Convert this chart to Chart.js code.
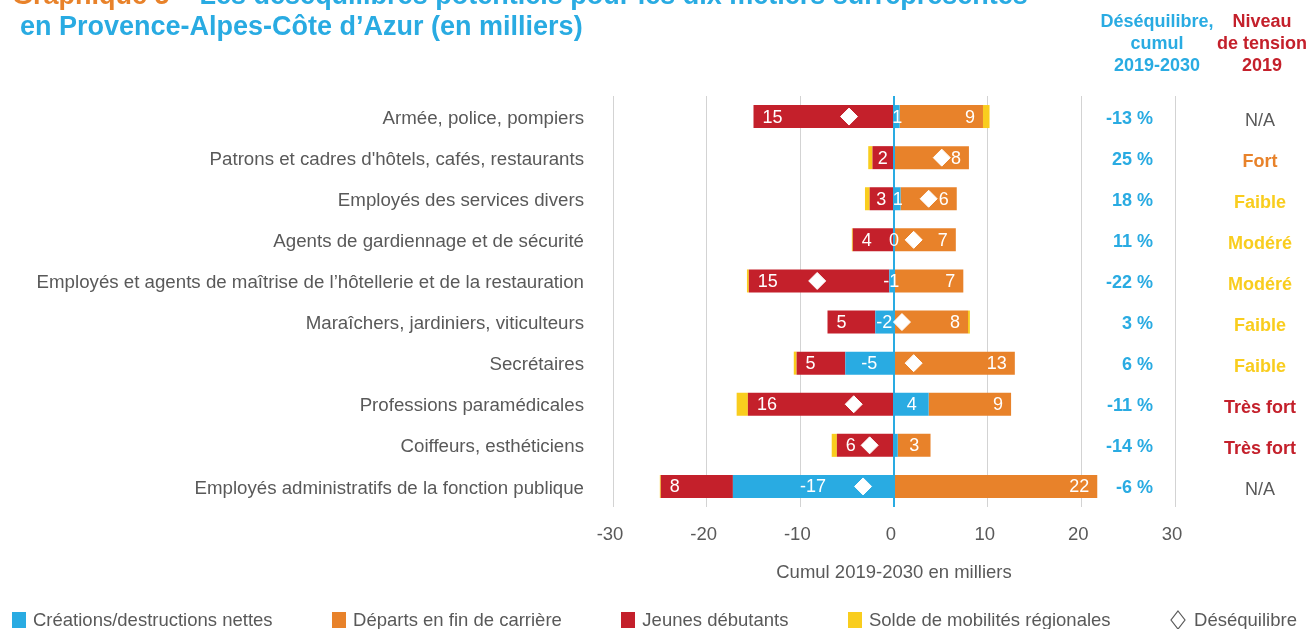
<!DOCTYPE html>
<html><head><meta charset="utf-8">
<script src="https://cdn.jsdelivr.net/npm/chart.js@4.4.1/dist/chart.umd.min.js"></script>
<style>
html,body{margin:0;padding:0;background:#fff;}
body{width:1309px;height:629px;position:relative;overflow:hidden;font-family:"Liberation Sans",Arial,sans-serif;}
#wrap{position:absolute;left:0;top:0;width:1309px;height:629px;}
.title{position:absolute;font-weight:bold;font-size:27px;white-space:nowrap;line-height:31px;}
.hdr{position:absolute;width:150px;text-align:center;font-weight:bold;font-size:18px;line-height:22px;top:10px;}
#legend{position:absolute;left:12px;width:1285px;top:610px;display:flex;justify-content:space-between;align-items:center;font-size:18.5px;line-height:20px;color:#595959;white-space:nowrap;}
#legend .it{display:flex;align-items:center;}
#legend .bx{display:inline-block;width:14px;height:16px;margin-right:7px;}
</style></head>
<body>
<div id="wrap"><canvas id="c" width="1309" height="629"></canvas></div>
<div class="title" style="left:12px;top:-20px"><span style="color:#E8822A">Graphique 5 – </span><span style="color:#29ABE2">Les déséquilibres potentiels pour les dix métiers surreprésentés</span></div>
<div class="title" style="left:20px;top:11px;color:#29ABE2">en Provence-Alpes-Côte d’Azur (en milliers)</div>
<div class="hdr" style="left:1082px;color:#29ABE2">Déséquilibre,<br>cumul<br>2019-2030</div>
<div class="hdr" style="left:1187px;color:#C4202B">Niveau<br>de tension<br>2019</div>
<div id="legend"></div>
<script>
const categories = [
  'Armée, police, pompiers',
  "Patrons et cadres d'hôtels, cafés, restaurants",
  'Employés des services divers',
  'Agents de gardiennage et de sécurité',
  'Employés et agents de maîtrise de l’hôtellerie et de la restauration',
  'Maraîchers, jardiniers, viticulteurs',
  'Secrétaires',
  'Professions paramédicales',
  'Coiffeurs, esthéticiens',
  'Employés administratifs de la fonction publique'
];
const creations       = [0.6, 0, 0.7, 0, -0.5, -2.0, -5.2, 3.7, 0.4, -17.2];
const creationsLabels = ['1', '', '1', '0', '-1', '-2', '-5', '4', '', '-17'];
const jeunes          = [-15.0, -2.3, -2.6, -4.4, -15.0, -5.1, -5.2, -15.6, -6.1, -7.7];
const jeunesLabels    = ['15', '2', '3', '4', '15', '5', '5', '16', '6', '8'];
const departs         = [8.9, 8.0, 6.0, 6.6, 7.4, 7.9, 12.9, 8.8, 3.5, 21.7];
const departsLabels   = ['9', '8', '6', '7', '7', '8', '13', '9', '3', '22'];
const mobilites       = [0.7, -0.45, -0.5, -0.1, -0.2, 0.2, -0.3, -1.2, -0.55, -0.1];
const desequilibre    = [-4.8, 5.1, 3.7, 2.1, -8.2, 0.85, 2.1, -4.3, -2.6, -3.3];
const desequilibrePct = ['-13 %', '25 %', '18 %', '11 %', '-22 %', '3 %', '6 %', '-11 %', '-14 %', '-6 %'];
const tension         = ['N/A', 'Fort', 'Faible', 'Modéré', 'Modéré', 'Faible', 'Faible', 'Très fort', 'Très fort', 'N/A'];
const xTicks          = [-30, -20, -10, 0, 10, 20, 30];

const FONT = '"Liberation Sans", Arial, sans-serif';
const BLUE = '#29ABE2', RED = '#C4202B', ORANGE = '#E8822A', YELLOW = '#F9CD1E', GREY = '#595959';
const tensionColor = {'N/A': GREY, 'Fort': ORANGE, 'Faible': YELLOW, 'Modéré': YELLOW, 'Très fort': RED};

const barLabels = {
  id: 'barLabels',
  afterDatasetsDraw(chart) {
    const ctx = chart.ctx;
    ctx.save();
    ctx.font = '18px ' + FONT;
    ctx.fillStyle = '#fff';
    ctx.textBaseline = 'middle';
    chart.data.datasets.forEach((ds, i) => {
      if (!ds.valueLabels) return;
      const meta = chart.getDatasetMeta(i);
      meta.data.forEach((el, j) => {
        const txt = ds.valueLabels[j];
        if (!txt) return;
        const l = Math.min(el.x, el.base), r = Math.max(el.x, el.base);
        const w = ctx.measureText(txt).width;
        let x;
        if (ds.labelPos === 'outer-left' && r - l > w + 24) { ctx.textAlign = 'left'; x = l + 9; }
        else if (ds.labelPos === 'outer-right' && r - l > w + 24) { ctx.textAlign = 'right'; x = r - 8; }
        else { ctx.textAlign = 'center'; x = (l + r) / 2; }
        ctx.fillText(txt, x, el.y + 1);
      });
    });
    ctx.restore();
  }
};

const sideColumns = {
  id: 'sideColumns',
  afterDraw(chart) {
    const {ctx, chartArea, scales} = chart;
    ctx.save();
    ctx.textBaseline = 'middle';
    categories.forEach((c, j) => {
      const py = scales.y.getPixelForValue(j);
      ctx.font = 'bold 18px ' + FONT;
      ctx.textAlign = 'right';
      ctx.fillStyle = BLUE;
      ctx.fillText(desequilibrePct[j], chartArea.right - 22, py + 2);
      const t = tension[j];
      ctx.font = (t === 'N/A' ? '' : 'bold ') + '18px ' + FONT;
      ctx.textAlign = 'center';
      ctx.fillStyle = tensionColor[t];
      ctx.fillText(t, chartArea.right + 85, py + 4);
    });
    ctx.restore();
  }
};

const datasets = [
  {label: 'Déséquilibre', type: 'line', data: desequilibre, showLine: false, indexAxis: 'y',
   pointStyle: 'rectRot', pointRadius: 8.5, pointHoverRadius: 8.5,
   pointBackgroundColor: '#fff', pointBorderColor: '#fff', pointBorderWidth: 1,
   order: -1, stack: 'diamond', legendRank: 4},
  {label: 'Créations/destructions nettes', data: creations, backgroundColor: BLUE, stack: 's',
   valueLabels: creationsLabels, labelPos: 'center', legendRank: 0},
  {label: 'Jeunes débutants', data: jeunes, backgroundColor: RED, stack: 's',
   valueLabels: jeunesLabels, labelPos: 'outer-left', legendRank: 2},
  {label: 'Départs en fin de carrière', data: departs, backgroundColor: ORANGE, stack: 's',
   valueLabels: departsLabels, labelPos: 'outer-right', legendRank: 1},
  {label: 'Solde de mobilités régionales', data: mobilites, backgroundColor: YELLOW, stack: 's', legendRank: 3}
];

new Chart(document.getElementById('c'), {
  type: 'bar',
  data: {labels: categories, datasets},
  options: {
    indexAxis: 'y',
    responsive: false,
    animation: false,
    devicePixelRatio: 1,
    layout: {padding: {left: 0, right: 134, top: 96, bottom: 41}},
    datasets: {bar: {categoryPercentage: 1, barPercentage: 0.56, borderWidth: 0}},
    plugins: {legend: {display: false}, tooltip: {enabled: false}},
    scales: {
      x: {
        type: 'linear', min: xTicks[0], max: xTicks[xTicks.length - 1], stacked: true,
        afterBuildTicks(s) { s.ticks = xTicks.map(v => ({value: v})); },
        ticks: {color: GREY, font: {size: 18.5, family: FONT}, padding: 17, labelOffset: -3},
        grid: {
          drawTicks: false,
          color: c => (c.tick && c.tick.value === 0) ? BLUE : '#D3D3D3',
          lineWidth: c => (c.tick && c.tick.value === 0) ? 2 : 1
        },
        border: {display: false},
        title: {display: true, text: 'Cumul 2019-2030 en milliers', color: GREY,
                font: {size: 18.5, family: FONT}, padding: {top: 4, bottom: 4}},
        afterFit(s) { s.height = 81; }
      },
      y: {
        stacked: true,
        grid: {display: false},
        border: {display: false},
        ticks: {color: GREY, font: {size: 18.7, family: FONT}, padding: 21, labelOffset: 2},
        afterFit(s) { s.width = 613; }
      }
    }
  },
  plugins: [barLabels, sideColumns]
});

// HTML legend built from the dataset definitions
const leg = document.getElementById('legend');
datasets.slice().sort((a, b) => a.legendRank - b.legendRank).forEach(ds => {
  const it = document.createElement('div');
  it.className = 'it';
  if (ds.type === 'line') {
    it.innerHTML = '<svg width="16" height="20" style="margin-right:8px"><polygon points="8,1 15,10 8,19 1,10" fill="#fff" stroke="' + GREY + '" stroke-width="1.2"/></svg>';
  } else {
    it.innerHTML = '<span class="bx" style="background:' + ds.backgroundColor + '"></span>';
  }
  const sp = document.createElement('span');
  sp.textContent = ds.label;
  it.appendChild(sp);
  leg.appendChild(it);
});
</script>
</body></html>
